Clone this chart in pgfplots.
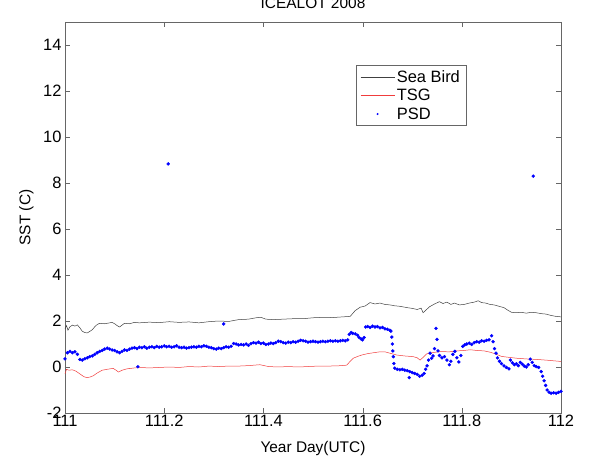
\documentclass[border=0pt]{standalone}
\usepackage{fontspec}
\setmainfont{Liberation Sans}
\usepackage{pgfplots}
\pgfplotsset{compat=1.18}
\definecolor{tsgred}{RGB}{240,60,60}
\pgfplotsset{
  dotleg/.style={legend image code/.code={\draw[##1, mark size=0.8bp] plot coordinates {(0.6cm,0cm)};}},
}

% SST comparison, ICEALOT 2008
\pgfplotstableread{
x y
111.000 1.65
111.003 1.80
111.006 1.60
111.010 1.75
111.015 1.82
111.020 1.78
111.025 1.83
111.030 1.70
111.035 1.55
111.040 1.50
111.045 1.48
111.050 1.55
111.055 1.62
111.060 1.75
111.065 1.85
111.070 1.90
111.080 1.88
111.090 1.92
111.095 1.94
111.100 1.88
111.105 1.80
111.110 1.74
111.115 1.82
111.120 1.90
111.130 1.88
111.140 1.94
111.150 1.92
111.170 1.95
111.190 1.93
111.210 1.97
111.230 1.94
111.250 1.96
111.270 1.92
111.290 1.97
111.310 2.00
111.330 1.98
111.350 2.06
111.370 2.08
111.385 2.14
111.395 2.16
111.405 2.08
111.420 2.06
111.440 2.08
111.460 2.10
111.480 2.10
111.500 2.14
111.520 2.16
111.540 2.15
111.560 2.18
111.575 2.20
111.585 2.45
111.595 2.60
111.605 2.65
111.615 2.80
111.625 2.74
111.635 2.78
111.645 2.72
111.655 2.70
111.665 2.66
111.675 2.64
111.690 2.58
111.700 2.55
111.710 2.50
111.718 2.56
111.722 2.36
111.728 2.48
111.735 2.62
111.745 2.74
111.755 2.84
111.762 2.76
111.770 2.82
111.778 2.72
111.785 2.78
111.795 2.70
111.805 2.72
111.815 2.78
111.825 2.82
111.833 2.88
111.840 2.80
111.848 2.78
111.857 2.72
111.865 2.70
111.875 2.64
111.885 2.58
111.892 2.48
111.900 2.38
111.910 2.36
111.920 2.38
111.930 2.34
111.940 2.38
111.950 2.36
111.960 2.32
111.970 2.30
111.980 2.24
111.990 2.20
112.000 2.18
}\seabird

\pgfplotstableread{
x y
111.000 -0.30
111.003 -0.10
111.008 -0.14
111.015 -0.12
111.022 -0.18
111.030 -0.30
111.038 -0.42
111.044 -0.46
111.050 -0.44
111.057 -0.38
111.065 -0.26
111.075 -0.14
111.085 -0.10
111.097 -0.06
111.103 -0.14
111.108 -0.22
111.115 -0.14
111.125 -0.08
111.140 -0.04
111.150 -0.02
111.170 -0.04
111.190 -0.02
111.210 0.00
111.230 -0.02
111.250 0.02
111.270 0.00
111.290 0.04
111.310 0.02
111.330 0.04
111.350 0.04
111.370 0.06
111.393 0.10
111.410 0.02
111.430 0.00
111.450 0.02
111.470 0.00
111.490 0.02
111.510 0.04
111.530 0.04
111.550 0.05
111.568 0.08
111.575 0.25
111.581 0.38
111.590 0.46
111.598 0.52
111.610 0.58
111.622 0.62
111.635 0.66
111.645 0.66
111.655 0.60
111.669 0.52
111.685 0.48
111.702 0.45
111.710 0.40
111.716 0.30
111.722 0.42
111.729 0.57
111.740 0.62
111.756 0.67
111.775 0.66
111.790 0.70
111.805 0.72
111.817 0.75
111.830 0.72
111.845 0.70
111.858 0.64
111.870 0.55
111.880 0.46
111.895 0.42
111.911 0.38
111.930 0.35
111.951 0.33
111.975 0.29
112.000 0.24
}\tsg

\pgfplotstableread{
x y
111.000 0.35
111.005 0.62
111.010 0.68
111.015 0.62
111.020 0.66
111.025 0.55
111.030 0.33
111.035 0.30
111.040 0.36
111.045 0.40
111.050 0.45
111.055 0.48
111.060 0.55
111.065 0.62
111.070 0.68
111.075 0.72
111.080 0.78
111.085 0.82
111.090 0.78
111.095 0.74
111.100 0.72
111.105 0.66
111.110 0.62
111.115 0.68
111.120 0.74
111.125 0.72
111.130 0.78
111.135 0.82
111.140 0.84
111.145 0.80
111.147 0.01
111.150 0.86
111.155 0.84
111.160 0.88
111.165 0.82
111.170 0.86
111.175 0.88
111.180 0.84
111.185 0.90
111.190 0.86
111.195 0.88
111.200 0.92
111.205 0.88
111.208 8.83
111.210 0.90
111.215 0.86
111.220 0.88
111.225 0.92
111.230 0.86
111.235 0.84
111.240 0.86
111.245 0.82
111.250 0.84
111.255 0.86
111.260 0.88
111.265 0.86
111.270 0.90
111.275 0.88
111.280 0.92
111.285 0.90
111.290 0.86
111.295 0.84
111.300 0.80
111.305 0.78
111.310 0.82
111.315 0.80
111.320 0.84
111.320 1.87
111.325 0.88
111.330 0.86
111.335 0.90
111.340 1.02
111.345 1.00
111.350 0.96
111.355 0.98
111.360 0.96
111.365 1.00
111.370 0.94
111.375 1.02
111.380 1.06
111.385 1.04
111.390 1.08
111.395 1.02
111.400 1.04
111.405 0.98
111.410 1.00
111.415 1.04
111.420 1.02
111.425 1.06
111.430 1.12
111.435 1.10
111.440 1.06
111.445 1.04
111.450 1.08
111.455 1.06
111.460 1.10
111.465 1.08
111.470 1.12
111.475 1.16
111.480 1.14
111.485 1.12
111.490 1.08
111.495 1.10
111.500 1.12
111.505 1.10
111.510 1.08
111.515 1.10
111.520 1.12
111.525 1.10
111.530 1.12
111.535 1.14
111.540 1.12
111.545 1.14
111.550 1.12
111.555 1.14
111.560 1.16
111.565 1.14
111.570 1.18
111.573 1.42
111.577 1.50
111.580 1.46
111.585 1.44
111.590 1.38
111.593 1.28
111.597 1.22
111.600 1.18
111.603 1.28
111.606 1.74
111.610 1.76
111.615 1.72
111.620 1.78
111.625 1.74
111.630 1.76
111.635 1.70
111.640 1.72
111.645 1.66
111.650 1.64
111.655 1.60
111.657 1.56
111.659 1.30
111.660 1.00
111.661 0.70
111.662 0.45
111.663 0.15
111.665 -0.05
111.670 -0.10
111.675 -0.12
111.680 -0.10
111.685 -0.14
111.690 -0.16
111.694 -0.46
111.695 -0.20
111.700 -0.24
111.705 -0.28
111.710 -0.32
111.715 -0.40
111.720 -0.36
111.724 -0.28
111.727 -0.10
111.730 0.05
111.733 0.30
111.736 0.60
111.739 0.38
111.742 0.48
111.745 0.80
111.748 1.68
111.750 1.20
111.752 0.70
111.755 0.50
111.760 0.40
111.765 0.45
111.770 0.30
111.775 0.10
111.778 0.25
111.782 0.55
111.786 0.68
111.790 0.40
111.794 0.22
111.798 0.50
111.802 0.90
111.806 0.96
111.810 1.00
111.815 1.04
111.820 0.98
111.825 1.06
111.830 1.10
111.835 1.08
111.840 1.14
111.845 1.12
111.850 1.16
111.855 1.18
111.860 1.36
111.863 1.10
111.866 0.80
111.869 0.60
111.872 0.40
111.876 0.25
111.880 0.15
111.885 0.05
111.890 -0.02
111.895 -0.08
111.898 0.30
111.902 0.18
111.906 0.10
111.910 0.14
111.914 0.06
111.918 0.20
111.922 0.12
111.926 0.04
111.930 0.00
111.934 0.10
111.938 0.34
111.942 0.20
111.944 8.30
111.946 0.06
111.950 0.02
111.955 -0.02
111.960 -0.20
111.963 -0.40
111.966 -0.60
111.969 -0.80
111.972 -1.00
111.976 -1.10
111.980 -1.14
111.985 -1.12
111.990 -1.14
111.995 -1.10
112.000 -1.06
}\psd

\begin{document}
\begin{tikzpicture}
\begin{axis}[
    scale only axis,
    width=496bp, height=391bp,
    xmin=111, xmax=112, ymin=-2, ymax=15,
    xtick={111,111.2,111.4,111.6,111.8,112},
    ytick={-2,0,2,4,6,8,10,12,14},
    axis line style={black!60},
    tick style={black!60},
    major tick length=5bp,
    /pgf/number format/assume math mode=true,
    ticklabel style={font=\fontsize{16.5}{19}\selectfont},
    xticklabel style={yshift=1bp},
    xlabel={Year Day(UTC)},
    ylabel={SST (C)},
    label style={font=\fontsize{15.5}{18}\selectfont},
    xlabel style={at={(axis description cs:0.5,-0.09)}, anchor=center},
    ylabel style={at={(axis description cs:-0.078,0.5)}, anchor=center},
    legend style={at={(axis description cs:0.587,0.89)}, anchor=north west,
        draw=black!60, font=\fontsize{16.5}{19}\selectfont,
        row sep=1.5bp, inner xsep=4bp, inner ysep=3bp},
    legend cell align=left,
    legend image code/.code={\draw[#1] (0cm,0cm) -- (1.2cm,0cm);},
]
\addplot[color=black!75, line width=0.5pt] table {\seabird};
\addlegendentry{Sea Bird}
\addplot[color=tsgred, line width=0.5pt] table {\tsg};
\addlegendentry{TSG}
\addplot[only marks, color=blue, mark=*, mark size=1.5bp, dotleg] table {\psd};
\addlegendentry{PSD}
\end{axis}
\node[anchor=base, font=\fontsize{15.5}{18}\selectfont] at (248bp,404bp) {ICEALOT 2008};
\pgfresetboundingbox
\useasboundingbox (-65bp,-49bp) rectangle (530bp,413bp);
\end{tikzpicture}
\end{document}
